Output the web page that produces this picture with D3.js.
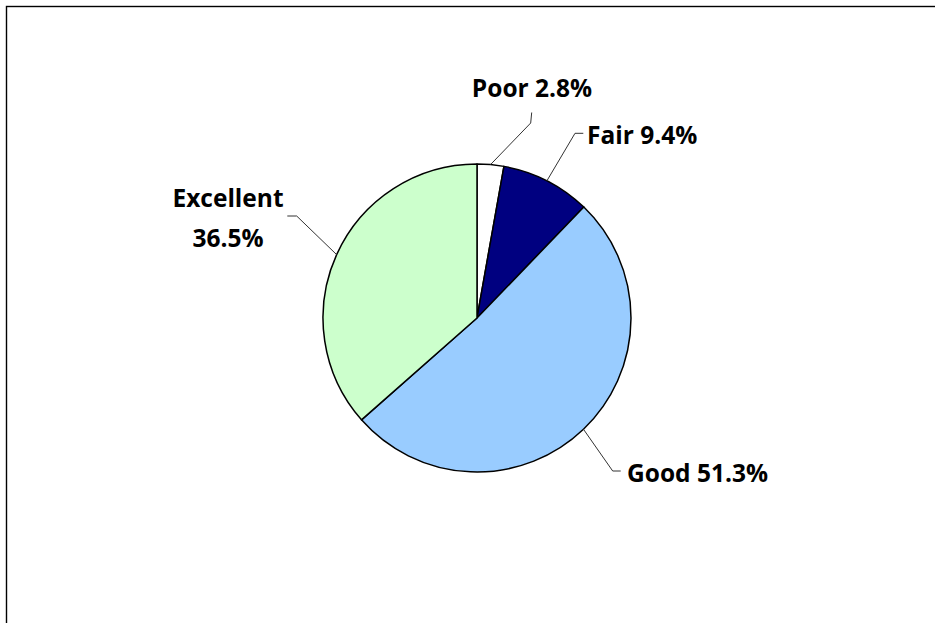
<!DOCTYPE html>
<html>
<head>
<meta charset="utf-8">
<script src="https://cdn.jsdelivr.net/npm/d3@7"></script>
<style>
  html, body { margin: 0; padding: 0; background: #fff; }
  svg { display: block; }
  .lbl { font-family: "Open Sans", Lato, sans-serif; font-weight: 700; font-size: 24.5px; fill: #000; }
</style>
</head>
<body>
<svg id="chart" width="935" height="623"></svg>
<script>
// Self-rated condition shares (percent)
const categories = ["Poor", "Fair", "Good", "Excellent"];
const shares = [2.8, 9.4, 51.3, 36.5];
const sliceColors = ["#FFFFFF", "#000080", "#99CCFF", "#CCFFCC"];

// Label placement: text anchor point, and the leader's bend and end points
const labelLayout = [
  { lines: 1, x: 532, y: 97, anchor: "middle", bend: [530.7, 123], end: [531.7, 112.5] },
  { lines: 1, x: 587, y: 144, anchor: "start", bend: [575, 133.3], end: [583.3, 133.3] },
  { lines: 1, x: 627, y: 482, anchor: "start", bend: [612.7, 471], end: [620.7, 471] },
  { lines: 2, x: 228, y: 207, anchor: "middle", bend: [296.7, 216], end: [287.3, 216] }
];

const W = 935, H = 623;
const cx = 477, cy = 318, radius = 154;

const svg = d3.select("#chart");

// Chart area frame
svg.append("rect")
  .attr("x", 6.5).attr("y", 6.5)
  .attr("width", W + 20).attr("height", H + 20)
  .attr("fill", "#fff")
  .attr("stroke", "#000")
  .attr("stroke-width", 1.4);

const data = categories.map((c, i) => ({ name: c, value: shares[i], color: sliceColors[i], layout: labelLayout[i] }));

const pie = d3.pie().value(d => d.value).sort(null);
const arcs = pie(data);
const arc = d3.arc().innerRadius(0).outerRadius(radius);

const g = svg.append("g").attr("transform", `translate(${cx},${cy})`);

g.selectAll("path.slice")
  .data(arcs)
  .join("path")
  .attr("class", "slice")
  .attr("d", arc)
  .attr("fill", d => d.data.color)
  .attr("stroke", "#000")
  .attr("stroke-width", 1.5)
  .attr("stroke-linejoin", "round");

// Leader lines from slice edge to label
svg.selectAll("path.leader")
  .data(arcs)
  .join("path")
  .attr("class", "leader")
  .attr("fill", "none")
  .attr("stroke", "#333")
  .attr("stroke-width", 1)
  .attr("d", d => {
    const mid = (d.startAngle + d.endAngle) / 2;
    const sx = cx + radius * Math.sin(mid);
    const sy = cy - radius * Math.cos(mid);
    const L = d.data.layout;
    return d3.line()([[sx, sy], L.bend, L.end]);
  });

// Labels
svg.selectAll("text.lbl")
  .data(arcs)
  .join("text")
  .attr("class", "lbl")
  .attr("x", d => d.data.layout.x)
  .attr("y", d => d.data.layout.y)
  .attr("text-anchor", d => d.data.layout.anchor)
  .each(function(d) {
    const t = d3.select(this);
    const pct = d.data.value.toFixed(1) + "%";
    if (d.data.layout.lines === 2) {
      t.append("tspan").attr("x", d.data.layout.x).text(d.data.name);
      t.append("tspan").attr("x", d.data.layout.x).attr("dy", 39.7).text(pct);
    } else {
      t.text(d.data.name + " " + pct);
    }
  });
</script>
</body>
</html>
